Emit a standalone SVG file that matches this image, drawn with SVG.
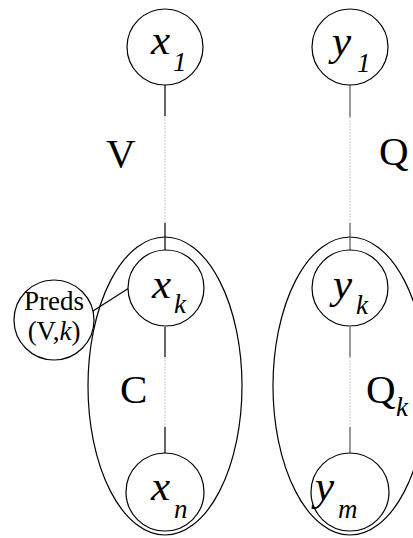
<svg xmlns="http://www.w3.org/2000/svg" width="413" height="538" viewBox="0 0 413 538">
<style>
.node{fill:#fff;stroke:#000;stroke-width:1.2}
.ell{fill:none;stroke:#000;stroke-width:1.2}
.solidL{stroke:#000;stroke-width:1.2}
.solidR{stroke:#555;stroke-width:1.2}
.dot{stroke:#c8c8c8;stroke-width:1;stroke-dasharray:2 1}
.lbl{font-family:"Liberation Serif","Times New Roman",serif;fill:#000}
.var{font-family:"Liberation Serif","Times New Roman",serif;font-style:italic;font-size:43px;fill:#000}
.sub{font-family:"Liberation Serif","Times New Roman",serif;font-style:italic;font-size:27px;fill:#000}
.big{font-size:41px}
</style>
<rect width="413" height="538" fill="#fff"/>
<g id="groups">
<ellipse id="groupC" class="ell" cx="165" cy="386" rx="77" ry="149"/>
<ellipse id="groupQk" class="ell" cx="350" cy="386" rx="77" ry="149"/>
</g>
<g id="connectors">
<line class="solidL" x1="165" y1="85" x2="165" y2="116"/>
<line class="dot" x1="165" y1="116" x2="165" y2="223"/>
<line class="solidL" x1="165" y1="223" x2="165" y2="250"/>
<line class="solidL" x1="165" y1="327" x2="165" y2="357"/>
<line class="dot" x1="165" y1="357" x2="165" y2="427"/>
<line class="solidL" x1="165" y1="427" x2="165" y2="453"/>
<line class="solidR" x1="350" y1="85" x2="350" y2="117"/>
<line class="dot" x1="350" y1="117" x2="350" y2="223"/>
<line class="solidR" x1="350" y1="223" x2="350" y2="250"/>
<line class="solidR" x1="350" y1="327" x2="350" y2="357"/>
<line class="dot" x1="350" y1="357" x2="350" y2="427"/>
<line class="solidR" x1="350" y1="427" x2="350" y2="453"/>
<line class="solidL" x1="93" y1="311" x2="129" y2="288"/>
</g>
<g id="x1">
<circle class="node" cx="165" cy="47" r="38"/>
<text class="var" x="151" y="54">x</text><text class="sub" x="173" y="71">1</text>
</g>
<g id="y1">
<circle class="node" cx="350" cy="47" r="38"/>
<text class="var" x="332" y="55">y</text><text class="sub" x="357" y="72">1</text>
</g>
<g id="xk">
<circle class="node" cx="166" cy="288" r="38"/>
<text class="var" x="152" y="298">x</text><text class="sub" x="174" y="313">k</text>
</g>
<g id="yk">
<circle class="node" cx="350" cy="288" r="38"/>
<text class="var" x="333" y="298">y</text><text class="sub" x="356" y="314">k</text>
</g>
<g id="xn">
<circle class="node" cx="165" cy="492" r="39"/>
<text class="var" x="151" y="500">x</text><text class="sub" x="174" y="518">n</text>
</g>
<g id="ym">
<circle class="node" cx="350" cy="492" r="39"/>
<text class="var" x="315" y="500">y</text><text class="sub" x="338" y="518">m</text>
</g>
<g id="preds">
<circle class="node" cx="54" cy="320" r="40"/>
<text class="lbl" x="54" y="310" font-size="27" text-anchor="middle">Preds</text>
<text class="lbl" x="54" y="340" font-size="27" text-anchor="middle">(V,<tspan font-style="italic">k</tspan>)</text>
</g>
<g id="labels">
<text class="lbl big" x="106" y="167">V</text>
<text class="lbl big" x="379" y="165">Q</text>
<text class="lbl big" x="120" y="403">C</text>
<text class="lbl big" x="366" y="403">Q</text><text class="sub" x="396" y="416">k</text>
</g>
</svg>
